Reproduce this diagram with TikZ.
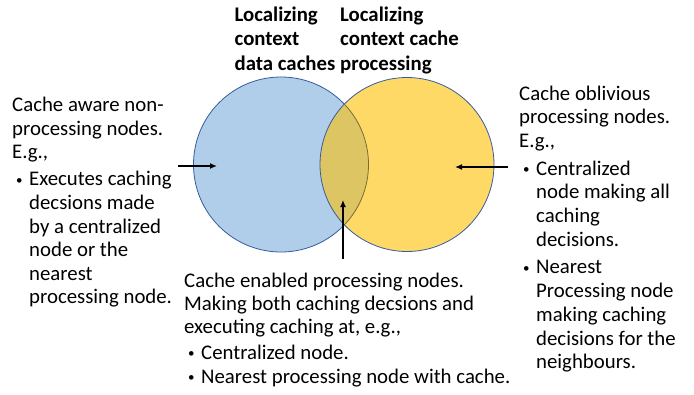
\documentclass[tikz,border=0pt]{standalone}
\usepackage{fontspec}
\setmainfont{Carlito}
\usetikzlibrary{positioning, arrows.meta}
\definecolor{setblue}{RGB}{176,206,234}
\definecolor{setyellow}{RGB}{255,217,102}
\definecolor{setboth}{RGB}{220,197,98}
\definecolor{rim}{RGB}{54,92,158}
\tikzset{
every text node part/.style={align=left},
txt/.style={inner sep=0pt, anchor=north west, font=\fontsize{20.8}{23.6}\selectfont},
head/.style={inner sep=0pt, anchor=north, align=center, font=\bfseries\fontsize{20.8}{24.6}\selectfont},
ring/.style={draw=rim, line width=0.8pt},
pointer/.style={line width=1.4pt, -{Latex[length=7pt,width=6pt]}},
}
\newcommand{\bul}{\makebox[17pt][l]{\hspace{4pt}\raisebox{1.5pt}{\fontsize{13}{13}\selectfont •}}}
\newcommand{\ind}{\hspace{17pt}}

\begin{document}
\begin{tikzpicture}[x=1pt, y=-1pt]
    \useasboundingbox (0,0) rectangle (694,394);
    \coordinate (cl) at (281,164.5);
    \coordinate (cr) at (407,164.5);

    %sets
    \fill[setblue] (cl) circle (87.5pt);
    \draw[ring] (cl) circle (87.5pt);
    \fill[setyellow] (cr) circle (87pt);
    \begin{scope}
        \clip (cl) circle (87.5pt);
        \fill[setboth] (cr) circle (87pt);
    \end{scope}
    \begin{scope}
        \clip (cr) circle (87pt);
        \draw[draw=black!45!setboth, line width=0.8pt] (cl) circle (87.5pt);
    \end{scope}
    \draw[ring] (cr) circle (87pt);

    %titles
    \node[head] (hl) at (285,6.5) {Localizing\\context\\data caches};
    \node[head] (hr) at (399.5,6.5) {Localizing\\context cache\\processing};

    %lables
    \node[txt] (aware) at (12,97) {Cache aware non-\\processing nodes.\\E.g.,\\[3.5pt]
        \bul Executes caching\\\ind decsions made\\\ind by a centralized\\\ind node or the\\\ind nearest\\\ind processing node.};
    \node[txt, font=\fontsize{20.8}{23.8}\selectfont] (oblivious) at (519,85.5) {Cache oblivious\\processing nodes.\\E.g.,\\[3.5pt]
        \bul Centralized\\\ind node making all\\\ind caching\\\ind decisions.\\[3.5pt]
        \bul Nearest\\\ind Processing node\\\ind making caching\\\ind decisions for the\\\ind neighbours.};
    \node[txt, font=\fontsize{20.8}{23}\selectfont] (enabled) at (184,273) {Cache enabled processing nodes.\\Making both caching decsions and\\executing caching at, e.g.,\\[2.5pt]
        \bul Centralized node.\\[1pt]\bul Nearest processing node with cache.};

    %arrows
    \coordinate (a1) at (178,166);
    \coordinate (b1) at (217,166);
    \coordinate (a2) at (508,167);
    \coordinate (b2) at (455,167);
    \coordinate (a3) at (343,259);
    \coordinate (b3) at (343,200);
    \draw[pointer] (a1)--(b1);
    \draw[pointer] (a2)--(b2);
    \draw[pointer] (a3)--(b3);
\end{tikzpicture}
\end{document}
